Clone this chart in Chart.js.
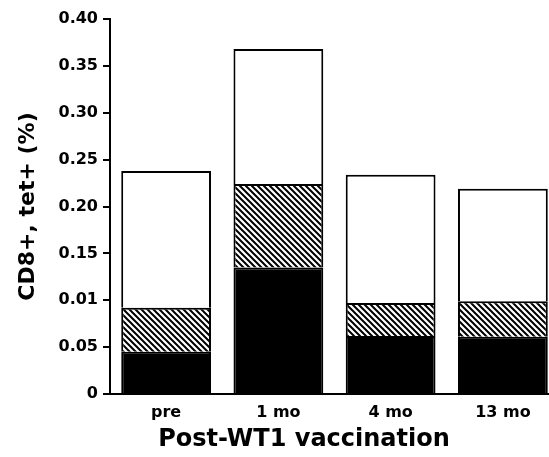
<!DOCTYPE html>
<html>
<head>
<meta charset="utf-8">
<script src="https://cdn.jsdelivr.net/npm/chart.js@4.4.1/dist/chart.umd.min.js"></script>
<style>
    html, body { margin: 0; padding: 0; background: #fff; overflow: hidden; }
    #wrap { position: relative; width: 562px; height: 457px; }
    #xTitle {
        position: absolute; left: 0; top: 426px; width: 608px;
        text-align: center; font: bold 24px "DejaVu Sans"; line-height: 24px; color: #000;
    }
</style>
</head>
<body>
<div id="wrap">
    <canvas id="chart"></canvas>
    <div id="xTitle">Post-WT1 vaccination</div>
</div>
<script>
// valeurs
const categories = ['pre', '1 mo', '4 mo', '13 mo'];
const blackPart = [0.045, 0.135, 0.062, 0.061];
const hatchedPart = [0.047, 0.089, 0.035, 0.038];
const whitePart = [0.146, 0.144, 0.137, 0.120];
const yTickLabels = ['0', '0.05', '0.01', '0.15', '0.20', '0.25', '0.30', '0.35', '0.40'];

function makeHatch() {
    const size = 6;
    const c = document.createElement('canvas');
    c.width = size;
    c.height = size;
    const g = c.getContext('2d');
    g.fillStyle = '#fff';
    g.fillRect(0, 0, size, size);
    g.strokeStyle = '#000';
    g.lineWidth = 2;
    g.beginPath();
    g.moveTo(-1, -1); g.lineTo(size + 1, size + 1);
    g.moveTo(-1, size - 1); g.lineTo(1, size + 1);
    g.moveTo(size - 1, -1); g.lineTo(size + 1, 1);
    g.stroke();
    return g.createPattern(c, 'repeat');
}

document.addEventListener('DOMContentLoaded', function() {
    const tickFont = { family: 'DejaVu Sans', size: 16, weight: 'bold' };
    const barStyle = { borderColor: '#000', borderWidth: 2, barPercentage: 0.8, categoryPercentage: 1 };

    new Chart(document.getElementById('chart'), {
        type: 'bar',
        data: {
            labels: categories,
            datasets: [
                Object.assign({ label: 'black', data: blackPart, backgroundColor: '#000' }, barStyle),
                Object.assign({ label: 'hatched', data: hatchedPart, backgroundColor: makeHatch() }, barStyle),
                Object.assign({ label: 'white', data: whitePart, backgroundColor: '#fff' }, barStyle)
            ]
        },
        options: {
            responsive: true,
            maintainAspectRatio: false,
            animation: false,
            layout: { padding: { top: 19, right: 3, left: 0, bottom: 0 } },
            plugins: { legend: { display: false }, tooltip: { enabled: false } },
            scales: {
                x: {
                    stacked: true,
                    grid: { display: false, drawTicks: false },
                    border: { display: true, color: '#000', width: 2 },
                    ticks: { color: '#000', font: tickFont, padding: 9, maxRotation: 0 },
                    afterFit: function(scale) { scale.height = 63; }
                },
                y: {
                    stacked: true,
                    min: 0,
                    max: 0.4,
                    grid: { drawOnChartArea: false, drawTicks: true, tickLength: 7, color: '#000', lineWidth: 2 },
                    border: { display: true, color: '#000', width: 2 },
                    ticks: {
                        stepSize: 0.05,
                        color: '#000',
                        font: tickFont,
                        padding: 5,
                        callback: function(value, index) { return yTickLabels[index]; }
                    },
                    title: {
                        display: true,
                        text: 'CD8+, tet+ (%)',
                        color: '#000',
                        font: { family: 'DejaVu Sans', size: 22, weight: 'bold' },
                        padding: { top: 15, bottom: 0 }
                    },
                    afterFit: function(scale) { scale.width = 110; }
                }
            }
        }
    });
});
</script>
</body>
</html>
